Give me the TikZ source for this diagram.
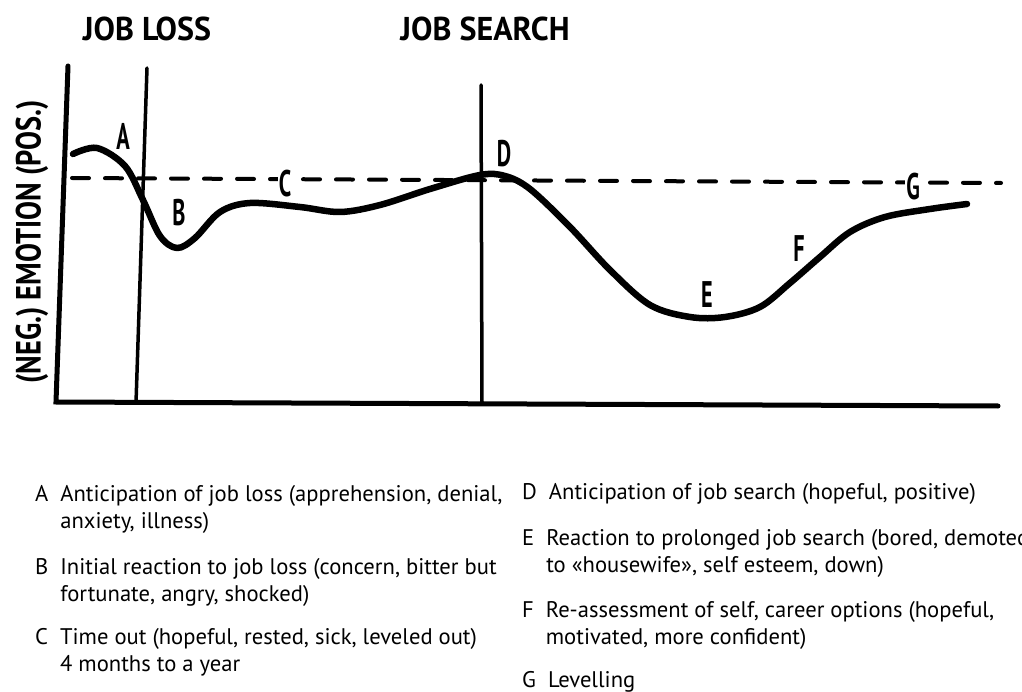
\documentclass[tikz,border=0pt]{standalone}
\usepackage{fontspec}
\setmainfont{PT Sans}
\usepackage{tikz}
\usetikzlibrary{positioning}
\tikzstyle{axis} = [line width=5pt, line cap=round]
\tikzstyle{divider} = [line width=3.5pt, line cap=round]
\tikzstyle{level} = [line width=4pt, line cap=round,
	dash pattern=on 17pt off 16pt]
\tikzstyle{curve} = [line width=6.5pt, line cap=round, line join=round]
\tikzstyle{phase} = [font=\bfseries\fontsize{33}{33}\selectfont]
\tikzstyle{letter} = [font=\bfseries\fontsize{37}{37}\selectfont,
	xscale=0.6, inner sep=1.5pt]
\tikzstyle{legend} = [font=\fontsize{22.6}{27}\selectfont,
	anchor=base west, inner sep=0pt]
\newcommand{\legenditem}[3]{\node[legend] (#1) at #2
	{\begin{tabular}[t]{@{}l@{\hspace{12pt}}l@{}}#3\end{tabular}}}

\begin{document}
\begin{tikzpicture}[x=1pt, y=-1pt]
		\useasboundingbox (0,0) rectangle (1022,692);
		
		\coordinate (ytop) at (68,66);
		\coordinate (origin) at (56,402);
		\coordinate (xend) at (998,406);
		\draw [axis] (ytop) -- (origin) -- (xend);
		\node (ylabel) [phase, font=\bfseries\fontsize{35}{35}\selectfont,
			rotate=90, xscale=0.81] at (32,242) {(NEG.) EMOTION (POS.)};
		
		\coordinate (lossTop) at (147,68);
		\coordinate (lossBot) at (136,403);
		\draw [divider] (lossTop) -- (lossBot);
		\node (loss) [phase, xscale=0.97] at (147,29) {JOB LOSS};
		
		\coordinate (searchTop) at (481,85);
		\coordinate (searchBot) at (482,404);
		\draw [divider] (searchTop) -- (searchBot);
		\node (search) [phase, xscale=0.97] at (485,29) {JOB SEARCH};
		
		\coordinate (levelL) at (72,178);
		\coordinate (levelR) at (1001,183);
		\draw [level] (levelL) -- (levelR);
		
		\draw [curve] plot [smooth, tension=0.55] coordinates {
			(73,154) (97,148) (125,166) (143,200) (160,236) (177,248)
			(195,238) (220,212) (250,203) (300,207) (340,212) (380,205)
			(430,189) (480,175) (505,176) (530,189) (570,227) (610,270)
			(650,305) (690,317) (725,317) (760,307) (790,283) (820,257)
			(850,232) (885,217) (930,209) (967,204)};
		
		\node (A) [letter] at (123,136) {A};
		\node (B) [letter] at (179,213) {B};
		\node (C) [letter, fill=white] at (285,184) {C};
		\node (D) [letter] at (504,154) {D};
		\node (E) [letter] at (707,295) {E};
		\node (F) [letter] at (799,249) {F};
		\node (G) [letter, fill=white] at (913,187) {G};
		
		\legenditem{itemA}{(35,501)}{A & Anticipation of job loss (apprehension, denial,\\ & anxiety, illness)};
		\legenditem{itemB}{(35,574)}{B & Initial reaction to job loss (concern, bitter but\\ & fortunate, angry, shocked)};
		\legenditem{itemC}{(35,644)}{C & Time out (hopeful, rested, sick, leveled out)\\ & 4 months to a year};
		\legenditem{itemD}{(522,499)}{D & Anticipation of job search (hopeful, positive)};
		\legenditem{itemE}{(522,545)}{E & Reaction to prolonged job search (bored, demoted\\ & to «housewife», self esteem, down)};
		\legenditem{itemF}{(522,617)}{F & Re-assessment of self, career options (hopeful,\\ & motivated, more confident)};
		\legenditem{itemG}{(522,687)}{G & Levelling};
\end{tikzpicture}
\end{document}
